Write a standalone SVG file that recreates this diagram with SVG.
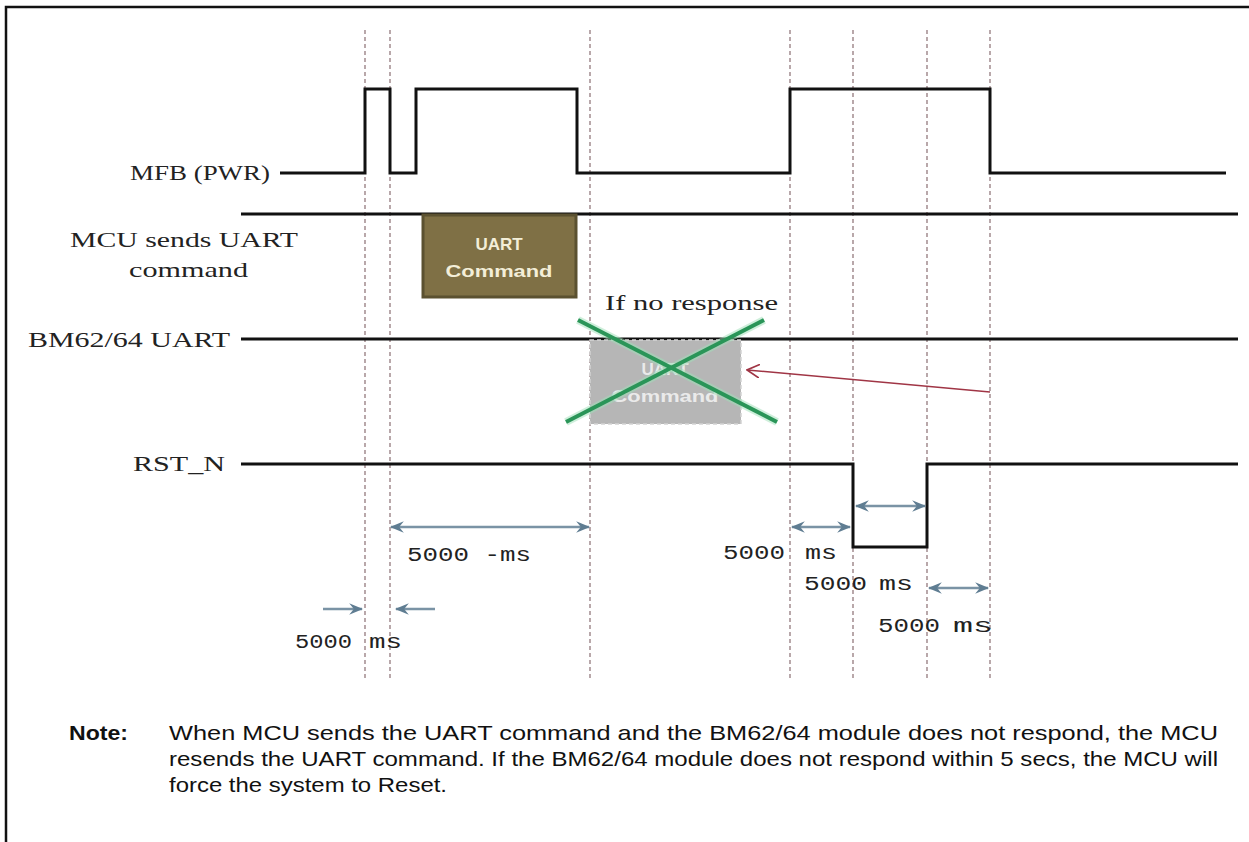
<svg xmlns="http://www.w3.org/2000/svg" width="1249" height="842" viewBox="0 0 1249 842">
<style>
.frame{fill:none;stroke:#111;stroke-width:2.5}
.grid{stroke:#8a6e72;stroke-width:1.2;stroke-dasharray:4 3;fill:none}
.sig{fill:none;stroke:#111;stroke-width:3;stroke-linejoin:miter}
.lbl{font-family:"Liberation Serif","Times New Roman",serif;fill:#222;font-size:21px}
.num{font-family:"Liberation Mono","Courier New",monospace;fill:#222;font-size:20px}
.dim{stroke:#7a93a5;stroke-width:2.5;fill:none}
.note{font-family:"Liberation Sans",Arial,sans-serif;fill:#111;font-size:21px}
.btxt{font-family:"Liberation Sans",Arial,sans-serif;font-weight:bold;font-size:17px;text-anchor:middle}
</style>
<defs>
<marker id="dh" viewBox="0 0 12 10" refX="11" refY="5" markerWidth="14" markerHeight="12" markerUnits="userSpaceOnUse" orient="auto-start-reverse">
<path d="M0,0 L12,5 L0,10 L4,5 Z" fill="#5f7d92"/>
</marker>
<marker id="rh" viewBox="0 0 12 12" refX="11" refY="6" markerWidth="14" markerHeight="14" markerUnits="userSpaceOnUse" orient="auto">
<path d="M0,0 L11,6 L0,12" fill="none" stroke="#a03545" stroke-width="1.5"/>
</marker>
</defs>
<rect x="0" y="0" width="1249" height="842" fill="#fff"/>
<rect class="frame" x="6" y="7" width="1270" height="860"/>

<g id="grid-lines">
<line class="grid" x1="365" y1="30" x2="365" y2="680"/>
<line class="grid" x1="390" y1="30" x2="390" y2="680"/>
<line class="grid" x1="590" y1="30" x2="590" y2="680"/>
<line class="grid" x1="790" y1="30" x2="790" y2="680"/>
<line class="grid" x1="853" y1="30" x2="853" y2="680"/>
<line class="grid" x1="927" y1="30" x2="927" y2="680"/>
<line class="grid" x1="990" y1="30" x2="990" y2="680"/>
</g>

<g id="mfb">
<text class="lbl" x="130" y="180" textLength="140" lengthAdjust="spacingAndGlyphs">MFB (PWR)</text>
<path class="sig" d="M280,173 H365 V89 H390 V173 H416 V89 H577 V173 H790 V89 H990 V173 H1226"/>
</g>

<g id="mcu">
<text class="lbl" x="70" y="247" font-size="22" textLength="228" lengthAdjust="spacingAndGlyphs">MCU sends UART</text>
<text class="lbl" x="129" y="277" font-size="22" textLength="119" lengthAdjust="spacingAndGlyphs">command</text>
<line class="sig" x1="241" y1="214" x2="1238" y2="214"/>
</g>

<g id="uart-command">
<rect x="423" y="215" width="153" height="82" fill="#7f7045" stroke="#5b5130" stroke-width="3"/>
<text class="btxt" x="499" y="250" fill="#f3eed8">UART</text>
<text class="btxt" x="499" y="277" fill="#f3eed8" textLength="107" lengthAdjust="spacingAndGlyphs">Command</text>
</g>

<g id="no-response">
<text class="lbl" x="605" y="310" font-size="22" textLength="173" lengthAdjust="spacingAndGlyphs">If no response</text>
</g>

<g id="bm">
<text class="lbl" x="28" y="347" font-size="22" textLength="202" lengthAdjust="spacingAndGlyphs">BM62/64 UART</text>
<line class="sig" x1="241" y1="339" x2="1238" y2="339"/>
</g>

<g id="uart-resend">
<rect x="590" y="340" width="151" height="84" fill="#b6b6b6" stroke="#d4d4d4" stroke-width="1.5" stroke-dasharray="4 3"/>
<text class="btxt" x="665" y="375" fill="#f4f4f4" opacity="0.85">UART</text>
<text class="btxt" x="665" y="402" fill="#f4f4f4" opacity="0.85" textLength="107" lengthAdjust="spacingAndGlyphs">Command</text>
<g stroke-linecap="butt">
<line x1="578" y1="320" x2="777" y2="422" stroke="#9fe0b8" stroke-width="8" opacity="0.5"/>
<line x1="566" y1="422" x2="764" y2="320" stroke="#9fe0b8" stroke-width="8" opacity="0.5"/>
<line x1="578" y1="320" x2="777" y2="422" stroke="#2a9558" stroke-width="4"/>
<line x1="566" y1="422" x2="764" y2="320" stroke="#2a9558" stroke-width="4"/>
</g>
</g>

<g id="rst">
<text class="lbl" x="133" y="471" textLength="92" lengthAdjust="spacingAndGlyphs">RST_N</text>
<path class="sig" d="M241,464 H853 V547 H927 V464 H1238"/>
</g>

<g id="connectors">
<line class="dim" x1="391" y1="527" x2="589" y2="527" stroke="#a6afb8" marker-start="url(#dh)" marker-end="url(#dh)"/>
<line class="dim" x1="323" y1="609" x2="362" y2="609" marker-end="url(#dh)"/>
<line class="dim" x1="435" y1="609" x2="396" y2="609" marker-end="url(#dh)"/>
<line class="dim" x1="792" y1="527" x2="850" y2="527" marker-start="url(#dh)" marker-end="url(#dh)"/>
<line class="dim" x1="856" y1="506" x2="925" y2="506" marker-start="url(#dh)" marker-end="url(#dh)"/>
<line class="dim" x1="929" y1="588" x2="988" y2="588" marker-start="url(#dh)" marker-end="url(#dh)"/>
<line x1="990" y1="392" x2="747" y2="370" stroke="#a03545" stroke-width="1.5" marker-end="url(#rh)"/>
</g>

<g id="timing-labels">
<text class="num" x="407" y="561" textLength="124" lengthAdjust="spacingAndGlyphs">5000 -ms</text>
<text class="num" y="648"><tspan x="295" textLength="57" lengthAdjust="spacingAndGlyphs">5000</tspan><tspan x="369" textLength="33" lengthAdjust="spacingAndGlyphs">ms</tspan></text>
<text class="num" y="559"><tspan x="723" textLength="62" lengthAdjust="spacingAndGlyphs">5000</tspan><tspan x="805" textLength="32" lengthAdjust="spacingAndGlyphs">ms</tspan></text>
<text class="num" y="590"><tspan x="804" textLength="63" lengthAdjust="spacingAndGlyphs">5000</tspan><tspan x="879" textLength="34" lengthAdjust="spacingAndGlyphs">ms</tspan></text>
<text class="num" y="632"><tspan x="878" textLength="62" lengthAdjust="spacingAndGlyphs">5000</tspan><tspan x="953" textLength="40" lengthAdjust="spacingAndGlyphs">ms</tspan></text>
</g>

<g id="note">
<text class="note" x="69" y="740" font-weight="bold" textLength="59" lengthAdjust="spacingAndGlyphs">Note:</text>
<text class="note" x="169" y="740" textLength="1049" lengthAdjust="spacingAndGlyphs">When MCU sends the UART command and the BM62/64 module does not respond, the MCU</text>
<text class="note" x="169" y="766" textLength="1049" lengthAdjust="spacingAndGlyphs">resends the UART command. If the BM62/64 module does not respond within 5 secs, the MCU will</text>
<text class="note" x="169" y="792" textLength="278" lengthAdjust="spacingAndGlyphs">force the system to Reset.</text>
</g>
</svg>
